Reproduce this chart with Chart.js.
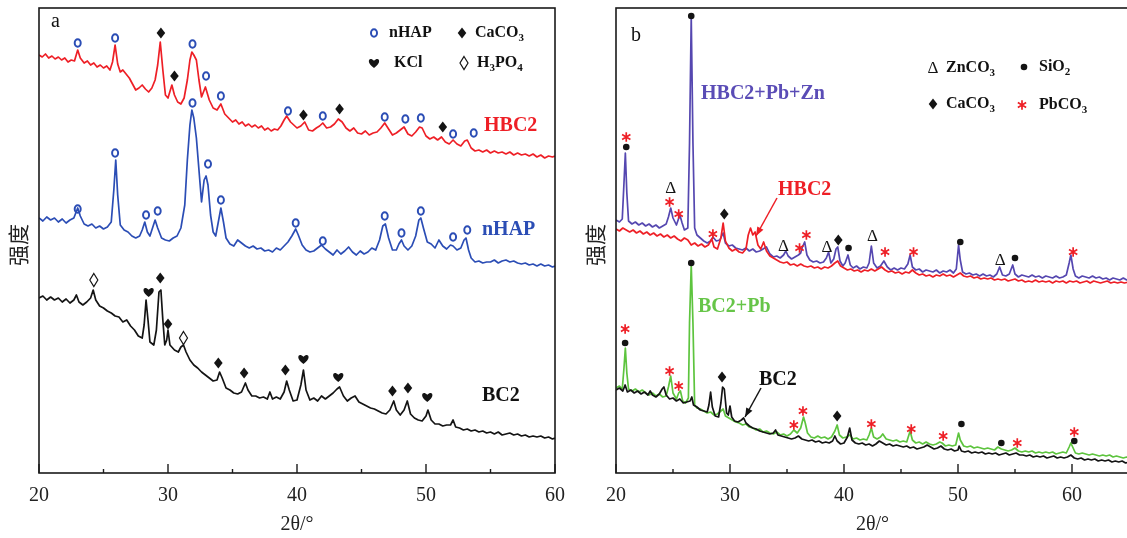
<!DOCTYPE html>
<html><head><meta charset="utf-8">
<script src="https://cdn.jsdelivr.net/npm/chart.js@4.4.0/dist/chart.umd.min.js"></script>
<style>
html,body{margin:0;padding:0;background:#fff;overflow:hidden;width:1127px;height:538px;}
#wrap{position:relative;width:1127px;height:538px;overflow:hidden;background:#fff;}
canvas{position:absolute;top:0;}
#ca{left:0;width:576px;height:538px;}
#cb{left:577px;width:560px;height:538px;}
</style></head><body>
<div id="wrap"><canvas id="ca" width="576" height="538"></canvas><canvas id="cb" width="560" height="538"></canvas></div>
<script>
// ---------- Panel a data (2θ, intensity a.u.) ----------
const aHBC2 = [[20,418],[20.25,416],[20.5,419],[20.75,415],[21,417],[21.25,414],[21.5,416],[21.75,413],[22,415],[22.25,411],[22.5,413],[22.75,412],[23,423],[23.2,415],[23.5,410],[23.75,412],[24,408],[24.25,410],[24.5,406],[24.75,408],[25,405],[25.25,407],[25.5,403],[25.7,411],[25.9,428],[26.1,409],[26.3,401],[26.5,403],[26.75,399],[27,395],[27.25,389],[27.5,383],[27.75,385],[28,388],[28.25,384],[28.5,381],[28.75,385],[29,393],[29.2,408],[29.4,431],[29.6,403],[29.8,378],[30,375],[30.3,388],[30.5,378],[30.75,371],[31,369],[31.25,375],[31.5,393],[31.7,413],[31.85,421],[32,418],[32.2,413],[32.4,393],[32.6,376],[32.9,386],[33.2,373],[33.5,365],[33.8,363],[34.1,369],[34.4,359],[34.7,355],[35,351],[35.25,353],[35.5,349],[35.75,351],[36,347],[36.25,349],[36.5,346],[36.75,348],[37,345],[37.25,347],[37.5,343],[37.75,345],[38,342],[38.25,344],[38.5,343],[38.75,347],[39,353],[39.2,357],[39.5,351],[39.75,348],[40,345],[40.3,347],[40.6,351],[40.9,343],[41.2,342],[41.5,345],[41.75,347],[42,350],[42.3,345],[42.6,346],[42.9,349],[43.2,354],[43.5,351],[43.8,345],[44.1,342],[44.4,345],[44.7,340],[45,339],[45.3,342],[45.6,338],[45.9,340],[46.2,341],[46.5,345],[46.8,350],[47.1,344],[47.4,338],[47.7,340],[48,343],[48.3,346],[48.6,339],[48.9,337],[49.2,341],[49.5,346],[49.7,345],[50,337],[50.3,334],[50.6,336],[50.9,333],[51.2,336],[51.5,331],[51.8,329],[52.1,333],[52.4,329],[52.7,327],[53,332],[53.2,333],[53.5,325],[53.8,322],[54.1,323],[54.4,321],[54.7,323],[55,320],[55.3,322],[55.6,320],[55.9,321],[56.2,319],[56.5,321],[56.8,318],[57.1,320],[57.4,318],[57.7,319],[58,317],[58.3,319],[58.6,316],[58.9,318],[59.2,315],[59.5,317],[59.8,316],[60,317]];
const aNHAP = [[20,255],[20.3,252],[20.6,256],[20.9,253],[21.2,255],[21.5,251],[21.8,254],[22.1,250],[22.4,253],[22.7,255],[23,265],[23.2,257],[23.5,249],[23.8,247],[24.1,249],[24.4,245],[24.7,247],[25,244],[25.3,246],[25.6,251],[25.8,283],[25.95,313],[26.1,278],[26.3,248],[26.6,243],[26.9,241],[27.2,237],[27.5,235],[27.8,237],[28,243],[28.2,251],[28.4,241],[28.6,237],[28.8,245],[29,253],[29.2,245],[29.5,235],[29.8,233],[30.1,232],[30.4,235],[30.7,237],[31,245],[31.3,268],[31.5,313],[31.7,348],[31.85,363],[32,355],[32.2,335],[32.4,303],[32.6,271],[32.8,293],[32.95,297],[33.1,288],[33.3,258],[33.5,241],[33.7,237],[33.9,251],[34.1,265],[34.3,251],[34.5,235],[34.8,229],[35.1,227],[35.4,233],[35.7,230],[36,227],[36.3,225],[36.6,227],[36.9,224],[37.2,225],[37.5,222],[37.8,223],[38.1,221],[38.4,225],[38.7,223],[39,227],[39.3,231],[39.6,237],[39.9,244],[40.1,238],[40.4,228],[40.7,223],[41,221],[41.3,222],[41.6,225],[41.9,228],[42.2,224],[42.5,221],[42.8,218],[43.1,223],[43.4,219],[43.7,222],[44,226],[44.3,221],[44.6,218],[44.9,222],[45.2,219],[45.5,221],[45.8,225],[46.1,223],[46.4,233],[46.65,247],[46.85,249],[47.1,235],[47.4,223],[47.7,223],[47.9,229],[48.1,233],[48.3,227],[48.6,223],[48.9,227],[49.2,237],[49.45,253],[49.6,255],[49.8,245],[50.1,231],[50.4,229],[50.7,225],[51,233],[51.3,227],[51.6,224],[51.9,228],[52.1,227],[52.4,223],[52.7,225],[52.95,233],[53.1,235],[53.3,223],[53.5,215],[53.8,211],[54.1,212],[54.4,210],[54.7,211],[55,211],[55.3,213],[55.6,210],[55.9,212],[56.2,213],[56.5,211],[56.8,212],[57.1,210],[57.4,209],[57.7,210],[58,208],[58.3,209],[58.6,207],[58.9,209],[59.2,207],[59.5,208],[59.8,206],[60,207]];
const aBC2 = [[20,175],[20.3,177],[20.6,173],[20.9,176],[21.2,173],[21.5,175],[21.8,171],[22.1,174],[22.4,170],[22.7,173],[22.9,178],[23.1,171],[23.4,168],[23.7,171],[24,175],[24.2,183],[24.4,173],[24.7,167],[25,165],[25.3,162],[25.6,160],[25.9,157],[26.2,156],[26.5,151],[26.8,153],[27.1,147],[27.4,143],[27.7,137],[28,135],[28.15,148],[28.3,173],[28.45,153],[28.6,131],[28.9,128],[29.1,143],[29.3,181],[29.45,183],[29.6,153],[29.75,128],[29.9,133],[30,143],[30.15,128],[30.5,123],[30.8,121],[31,126],[31.2,128],[31.4,121],[31.7,113],[32,108],[32.3,105],[32.6,101],[32.9,98],[33.2,95],[33.5,92],[33.8,93],[34,101],[34.2,95],[34.5,85],[34.8,83],[35.1,80],[35.4,79],[35.7,81],[36,90],[36.2,83],[36.5,77],[36.8,77],[37.1,75],[37.4,76],[37.7,74],[37.9,81],[38.1,74],[38.4,76],[38.7,74],[39,81],[39.2,92],[39.4,83],[39.7,72],[40,73],[40.3,88],[40.5,103],[40.7,83],[41,73],[41.3,75],[41.6,72],[41.9,77],[42.2,74],[42.5,77],[42.8,80],[43.1,84],[43.3,86],[43.6,77],[43.9,72],[44.2,75],[44.5,77],[44.8,71],[45.1,69],[45.4,67],[45.7,65],[46,64],[46.3,62],[46.6,60],[46.9,59],[47.2,63],[47.5,72],[47.7,63],[48,58],[48.3,63],[48.55,72],[48.8,59],[49.1,55],[49.4,53],[49.7,52],[50,57],[50.15,63],[50.4,53],[50.7,49],[51,49],[51.3,47],[51.6,48],[51.9,48],[52.1,53],[52.3,46],[52.6,45],[52.9,43],[53.2,44],[53.5,42],[53.8,43],[54.1,41],[54.4,42],[54.7,40],[55,41],[55.3,39],[55.6,41],[55.9,38],[56.2,39],[56.5,40],[56.8,38],[57.1,39],[57.4,37],[57.7,38],[58,36],[58.3,37],[58.6,36],[58.9,37],[59.2,35],[59.5,36],[59.8,34],[60,35]];

// ---------- Panel b data ----------
const bHBC2PbZn = [[20,253],[20.3,251],[20.55,254],[20.7,290],[20.82,320],[20.95,280],[21.1,252],[21.4,249],[21.7,251],[22,248],[22.3,250],[22.6,247],[22.9,249],[23.2,246],[23.5,248],[23.8,245],[24.1,247],[24.4,249],[24.6,256],[24.8,265],[25,255],[25.3,248],[25.6,258],[25.8,250],[26,243],[26.3,245],[26.45,330],[26.6,456],[26.75,330],[26.9,245],[27.1,238],[27.4,235],[27.7,232],[28,230],[28.3,232],[28.5,236],[28.8,232],[29.1,233],[29.4,240],[29.6,230],[29.9,227],[30.2,228],[30.5,225],[30.8,224],[31.1,223],[31.4,225],[31.7,222],[32,224],[32.3,221],[32.6,222],[32.9,224],[33.2,226],[33.5,219],[33.8,216],[34.1,217],[34.4,215],[34.7,218],[34.9,222],[35.1,217],[35.4,214],[35.7,216],[36,218],[36.2,220],[36.35,226],[36.55,231],[36.75,218],[37,213],[37.3,211],[37.6,212],[37.9,210],[38.2,211],[38.45,215],[38.65,221],[38.85,210],[39.1,214],[39.3,224],[39.45,226],[39.65,212],[39.9,207],[40.1,210],[40.35,218],[40.55,208],[40.8,205],[41.1,207],[41.4,204],[41.7,206],[42,205],[42.2,210],[42.4,227],[42.6,210],[42.9,205],[43.2,207],[43.5,212],[43.8,206],[44.1,203],[44.4,205],[44.7,203],[45,205],[45.3,204],[45.6,209],[45.8,218],[46,206],[46.3,203],[46.6,204],[46.9,201],[47.2,203],[47.5,202],[47.8,201],[48.1,203],[48.4,200],[48.7,202],[49,201],[49.3,203],[49.6,200],[49.85,204],[50.05,228],[50.2,213],[50.4,201],[50.7,199],[51,200],[51.3,198],[51.6,199],[51.9,197],[52.2,199],[52.5,197],[52.8,198],[53.1,196],[53.4,199],[53.65,206],[53.9,198],[54.2,197],[54.5,199],[54.8,208],[55,199],[55.3,196],[55.6,198],[55.9,197],[56.2,196],[56.5,198],[56.8,196],[57.1,197],[57.4,195],[57.7,197],[58,196],[58.3,195],[58.6,197],[58.9,195],[59.2,196],[59.5,198],[59.75,210],[59.9,218],[60.1,204],[60.3,197],[60.6,195],[60.9,197],[61.2,196],[61.5,195],[61.8,197],[62.1,195],[62.4,196],[62.7,194],[63,195],[63.3,193],[63.6,195],[63.9,194],[64.2,193],[64.5,195],[64.8,193],[65,194]];
const bHBC2 = [[20,244],[20.3,242],[20.6,245],[20.9,243],[21.2,241],[21.5,243],[21.8,240],[22.1,242],[22.4,239],[22.7,241],[23,238],[23.3,240],[23.6,237],[23.9,239],[24.2,236],[24.5,238],[24.8,235],[25.1,237],[25.4,234],[25.7,232],[26,235],[26.3,233],[26.6,228],[26.9,230],[27.2,227],[27.5,229],[27.8,226],[28.1,228],[28.4,234],[28.6,226],[28.9,224],[29.2,235],[29.4,250],[29.6,232],[29.9,225],[30.2,222],[30.5,224],[30.8,221],[31.1,220],[31.4,224],[31.6,238],[31.8,245],[32,238],[32.2,241],[32.45,228],[32.7,224],[32.95,231],[33.2,222],[33.5,217],[33.8,215],[34.1,213],[34.4,211],[34.7,210],[35,211],[35.3,208],[35.6,209],[35.9,207],[36.2,209],[36.5,207],[36.8,206],[37.1,207],[37.4,205],[37.7,206],[38,204],[38.3,206],[38.6,205],[38.9,207],[39.2,210],[39.45,212],[39.7,207],[40,205],[40.3,203],[40.6,204],[40.9,202],[41.2,203],[41.5,201],[41.8,203],[42.1,202],[42.4,204],[42.7,202],[43,204],[43.3,206],[43.6,203],[43.9,201],[44.2,202],[44.5,200],[44.8,201],[45.1,199],[45.4,201],[45.7,200],[46,203],[46.3,200],[46.6,198],[46.9,199],[47.2,197],[47.5,198],[47.8,196],[48.1,198],[48.4,197],[48.7,199],[49,197],[49.3,198],[49.6,196],[49.9,198],[50.2,200],[50.5,197],[50.8,196],[51.1,197],[51.4,195],[51.7,196],[52,194],[52.3,195],[52.6,194],[52.9,195],[53.2,193],[53.5,194],[53.8,193],[54.1,194],[54.4,192],[54.7,193],[55,194],[55.3,192],[55.6,193],[55.9,191],[56.2,192],[56.5,191],[56.8,193],[57.1,191],[57.4,192],[57.7,191],[58,192],[58.3,190],[58.6,192],[58.9,191],[59.2,192],[59.5,190],[59.8,192],[60.1,191],[60.4,192],[60.7,190],[61,191],[61.3,192],[61.6,190],[61.9,192],[62.2,191],[62.5,190],[62.8,191],[63.1,192],[63.4,190],[63.7,191],[64,190],[64.3,191],[64.6,190],[65,191]];
const bBC2Pb = [[20,85],[20.3,87],[20.55,84],[20.7,105],[20.82,125],[20.95,100],[21.1,84],[21.4,82],[21.7,84],[22,81],[22.3,83],[22.6,80],[22.9,78],[23.2,80],[23.5,77],[23.8,79],[24.1,76],[24.4,77],[24.6,86],[24.8,97],[25,80],[25.3,74],[25.5,80],[25.65,82],[25.85,72],[26.1,70],[26.35,75],[26.45,150],[26.6,208],[26.75,150],[26.9,68],[27.1,65],[27.4,64],[27.7,62],[28,60],[28.3,61],[28.6,58],[28.9,59],[29.2,62],[29.4,64],[29.6,57],[29.9,55],[30.2,53],[30.5,51],[30.8,50],[31.1,48],[31.4,49],[31.7,46],[32,45],[32.3,43],[32.6,44],[32.9,41],[33.2,42],[33.5,40],[33.8,39],[34.1,41],[34.4,38],[34.7,39],[35,37],[35.3,39],[35.6,43],[35.9,40],[36.2,45],[36.45,56],[36.6,50],[36.8,40],[37.1,36],[37.4,35],[37.7,37],[38,35],[38.3,36],[38.6,34],[38.9,36],[39.2,42],[39.4,48],[39.6,38],[39.9,35],[40.2,36],[40.5,38],[40.8,34],[41.1,35],[41.4,33],[41.7,34],[42,33],[42.2,38],[42.4,45],[42.6,36],[42.9,34],[43.2,36],[43.4,39],[43.7,34],[44,33],[44.3,32],[44.6,33],[44.9,31],[45.2,32],[45.5,31],[45.8,42],[46,33],[46.3,30],[46.6,31],[46.9,29],[47.2,31],[47.5,29],[47.8,28],[48.1,29],[48.4,31],[48.6,30],[48.9,27],[49.2,28],[49.5,27],[49.8,28],[50.05,40],[50.2,33],[50.5,27],[50.8,26],[51.1,27],[51.4,25],[51.7,26],[52,25],[52.3,24],[52.6,25],[52.9,24],[53.2,23],[53.5,26],[53.8,24],[54.1,23],[54.4,22],[54.7,23],[55,25],[55.3,22],[55.6,21],[55.9,22],[56.2,21],[56.5,22],[56.8,20],[57.1,21],[57.4,20],[57.7,21],[58,20],[58.3,21],[58.6,19],[58.9,20],[59.2,21],[59.5,20],[59.75,26],[59.9,30],[60.1,25],[60.3,20],[60.6,19],[60.9,20],[61.2,19],[61.5,18],[61.8,19],[62.1,18],[62.4,17],[62.7,18],[63,17],[63.3,18],[63.6,16],[63.9,17],[64.2,16],[64.5,15],[64.8,16],[65,15]];
const bBC2 = [[20,83],[20.3,85],[20.6,82],[20.8,88],[21,81],[21.3,83],[21.6,80],[21.9,82],[22.2,79],[22.5,81],[22.8,78],[23,82],[23.2,78],[23.5,76],[23.8,79],[24.05,84],[24.2,86],[24.4,78],[24.7,74],[25,75],[25.3,72],[25.6,74],[25.9,70],[26.2,71],[26.5,72],[26.65,76],[26.8,68],[27.1,66],[27.4,63],[27.7,62],[28,61],[28.15,68],[28.3,81],[28.45,66],[28.7,57],[29,56],[29.2,70],[29.35,86],[29.5,84],[29.7,60],[29.85,58],[30,67],[30.15,56],[30.4,52],[30.7,51],[31,53],[31.2,55],[31.4,50],[31.7,47],[32,45],[32.3,44],[32.6,42],[32.9,41],[33.2,40],[33.5,39],[33.8,40],[34,43],[34.2,38],[34.5,37],[34.8,36],[35.1,35],[35.4,34],[35.7,35],[36,37],[36.3,34],[36.6,33],[36.9,32],[37.2,33],[37.5,31],[37.8,32],[38.1,30],[38.4,31],[38.7,30],[39,32],[39.2,37],[39.4,32],[39.7,29],[40,30],[40.3,36],[40.5,45],[40.7,33],[41,30],[41.3,29],[41.6,30],[41.9,28],[42.2,29],[42.5,27],[42.8,29],[43.1,32],[43.4,30],[43.7,28],[44,29],[44.3,27],[44.6,28],[44.9,27],[45.2,26],[45.5,27],[45.8,25],[46.1,26],[46.4,24],[46.7,25],[47,26],[47.3,28],[47.6,26],[47.9,24],[48.2,25],[48.5,27],[48.8,24],[49.1,23],[49.4,24],[49.7,22],[50,23],[50.1,27],[50.3,22],[50.6,21],[50.9,22],[51.2,20],[51.5,21],[51.8,20],[52.1,21],[52.4,19],[52.7,20],[53,19],[53.3,20],[53.6,18],[53.9,19],[54.2,20],[54.5,18],[54.8,19],[55.1,20],[55.4,18],[55.7,18],[56,17],[56.3,18],[56.6,16],[56.9,17],[57.2,16],[57.5,17],[57.8,15],[58.1,16],[58.4,17],[58.7,15],[59,16],[59.3,15],[59.6,16],[59.9,18],[60.2,15],[60.5,14],[60.8,15],[61.1,13],[61.4,14],[61.7,13],[62,14],[62.3,12],[62.6,13],[62.9,12],[63.2,13],[63.5,11],[63.8,12],[64.1,11],[64.4,12],[64.7,10],[65,11]];

// ---------- phase markers (2θ, height) ----------
const aMarkNHAP1 = [[23,430],[25.9,435],[31.9,429],[32.95,397],[34.1,377],[39.3,362],[42.0,357],[46.8,356],[48.4,354],[49.6,355],[52.1,339],[53.7,340]];
const aMarkCaCO3_1 = [[29.45,440],[30.5,397],[40.5,358],[43.3,364],[51.3,346]];
const aMarkNHAP2 = [[23,264],[25.9,320],[28.3,258],[29.2,262],[31.9,370],[33.1,309],[34.1,273],[39.9,250],[42.0,232],[46.8,257],[48.1,240],[49.6,262],[52.1,236],[53.2,243]];
const aMarkH3PO4 = [[24.25,193],[31.2,135]];
const aMarkKCl = [[28.5,181],[40.5,114],[43.2,96],[50.1,76]];
const aMarkCaCO3_3 = [[29.4,195],[30.0,149],[33.9,110],[35.9,100],[39.1,103],[47.4,82],[48.6,85]];

const bMarkPbCO3 = [[20.9,336],[24.7,271],[25.5,259],[28.5,239],[36.1,225],[36.7,238],[43.6,221],[46.1,221],[60.1,221],
                    [20.8,144],[24.7,102],[25.5,87],[35.6,48],[36.4,62],[42.4,49],[45.9,44],[48.7,37],[55.2,30],[60.2,41]];
const bMarkSiO2 = [[20.9,326],[26.6,457],[40.4,225],[50.2,231],[55.0,215],[26.6,210],[20.8,130],[50.3,49],[53.8,30],[60.2,32]];
const bMarkZnCO3 = [[24.8,285],[34.7,227],[38.5,226],[42.5,237],[53.7,213]];
const bMarkCaCO3 = [[29.5,259],[39.5,233],[29.3,96],[39.4,57]];

const xTicksA = [20,30,40,50,60];
const xTicksB = [20,30,40,50,60];

// ---------- styling ----------
const SERIF = '"Liberation Serif","Times New Roman",serif';
const RED = '#ee1f26', BLUE = '#2b4db5', BLACK = '#141414', PURPLE = '#5547b0', GREEN = '#5dc43e';

function drawSym(ctx, sym, px, py, color) {
  ctx.save();
  ctx.fillStyle = color; ctx.strokeStyle = color;
  if (sym === 'o') {
    ctx.lineWidth = 2; ctx.beginPath(); ctx.ellipse(px, py, 3.0, 3.8, 0, 0, Math.PI*2); ctx.stroke();
  } else if (sym === 'dia') {
    ctx.beginPath(); ctx.moveTo(px, py-5.5); ctx.lineTo(px+4.3, py); ctx.lineTo(px, py+5.5); ctx.lineTo(px-4.3, py); ctx.closePath(); ctx.fill();
  } else if (sym === 'odia') {
    ctx.lineWidth = 1.2; ctx.beginPath(); ctx.moveTo(px, py-6.5); ctx.lineTo(px+4, py); ctx.lineTo(px, py+6.5); ctx.lineTo(px-4, py); ctx.closePath(); ctx.stroke();
  } else if (sym === 'dot') {
    ctx.beginPath(); ctx.arc(px, py, 3.3, 0, Math.PI*2); ctx.fill();
  } else if (sym === 'heart') {
    const s = 5;
    ctx.beginPath();
    ctx.moveTo(px, py + s);
    ctx.bezierCurveTo(px - s*1.7, py - s*0.1, px - s*1.0, py - s*1.4, px, py - s*0.45);
    ctx.bezierCurveTo(px + s*1.0, py - s*1.4, px + s*1.7, py - s*0.1, px, py + s);
    ctx.fill();
  } else if (sym === 'tri') {
    ctx.font = '17px ' + SERIF; ctx.textAlign = 'center'; ctx.textBaseline = 'middle';
    ctx.fillText('Δ', px, py + 1);
  } else if (sym === 'star') {
    ctx.lineWidth = 1.7; const r = 4.8;
    ctx.beginPath();
    for (let k = 0; k < 3; k++) {
      const a = Math.PI/2 + k*Math.PI/3;
      ctx.moveTo(px + r*Math.cos(a), py + r*Math.sin(a));
      ctx.lineTo(px - r*Math.cos(a), py - r*Math.sin(a));
    }
    ctx.stroke();
  }
  ctx.restore();
}

function chem(ctx, parts, x, y, size, color, bold) {
  ctx.save();
  ctx.fillStyle = color; ctx.textBaseline = 'middle'; ctx.textAlign = 'left';
  for (const [t, sub] of parts) {
    const fs = sub ? Math.round(size*0.68) : size;
    ctx.font = (bold ? 'bold ' : '') + fs + 'px ' + SERIF;
    ctx.fillText(t, x, sub ? y + size*0.33 : y);
    x += ctx.measureText(t).width;
  }
  ctx.restore();
}

function yTitle(ctx, x, y) {
  ctx.save();
  ctx.translate(x, y); ctx.rotate(-Math.PI/2);
  ctx.fillStyle = '#222'; ctx.font = '21px "Noto Sans CJK SC"';
  ctx.textAlign = 'center'; ctx.textBaseline = 'middle';
  ctx.fillText('强度', 0, 0);
  ctx.restore();
}

function makePlugin(marks, decorate) {
  return {
    id: 'decor',
    afterDatasetsDraw(chart) {
      const {ctx, chartArea: a, scales: {x, y}} = chart;
      ctx.save();
      ctx.strokeStyle = '#1a1a1a'; ctx.lineWidth = 1.6;
      ctx.strokeRect(a.left, a.top, a.right - a.left, a.bottom - a.top);
      ctx.lineWidth = 1.4;
      for (let v = x.min; v <= x.max + 1e-9; v += 5) {
        const px = x.getPixelForValue(v);
        const len = (Math.round(v) % 10 === 0) ? 9 : 4;
        ctx.beginPath(); ctx.moveTo(px, a.bottom); ctx.lineTo(px, a.bottom - len); ctx.stroke();
      }
      ctx.restore();
      for (const g of marks) {
        for (const [mx, my] of g.pts) {
          drawSym(ctx, g.sym, x.getPixelForValue(mx), y.getPixelForValue(my), g.color);
        }
      }
      yTitle(ctx, 18, 245);
      decorate(ctx);
    }
  };
}

function lineDS(arr, color) {
  return { data: arr.map(([x, y]) => ({x, y})), borderColor: color, borderWidth: 1.7, pointRadius: 0, tension: 0, fill: false, borderJoinStyle: 'round' };
}

function baseOptions(xmax, ticks, padRight) {
  return {
    responsive: false, animation: false, devicePixelRatio: 1,
    layout: { padding: { top: 8, right: padRight, left: 0, bottom: 0 } },
    plugins: { legend: { display: false }, tooltip: { enabled: false } },
    scales: {
      x: {
        type: 'linear', min: 20, max: xmax,
        afterBuildTicks(s) { s.ticks = ticks.map(v => ({value: v})); },
        ticks: { font: { family: SERIF, size: 20 }, color: '#222', padding: 11, maxRotation: 0, autoSkip: false },
        grid: { display: false, drawTicks: false }, border: { display: false },
        title: { display: true, text: '2θ/°', font: { family: SERIF, size: 20 }, color: '#222', padding: { top: 0, bottom: 1 } },
        afterFit(s) { s.height = 65; s.paddingLeft = 0; s.paddingRight = 0; }
      },
      y: {
        min: 0, max: 465,
        ticks: { display: false }, grid: { display: false, drawTicks: false }, border: { display: false },
        title: { display: false, text: '强度' },
        afterFit(s) { s.width = 39; s.paddingTop = 0; s.paddingBottom = 0; }
      }
    }
  };
}

// Panel a
new Chart(document.getElementById('ca'), {
  type: 'line',
  data: { datasets: [lineDS(aBC2, BLACK), lineDS(aNHAP, BLUE), lineDS(aHBC2, RED)] },
  options: baseOptions(60, xTicksA, 21),
  plugins: [makePlugin([
    {pts: aMarkNHAP1, sym: 'o', color: BLUE},
    {pts: aMarkCaCO3_1, sym: 'dia', color: BLACK},
    {pts: aMarkNHAP2, sym: 'o', color: BLUE},
    {pts: aMarkH3PO4, sym: 'odia', color: BLACK},
    {pts: aMarkKCl, sym: 'heart', color: BLACK},
    {pts: aMarkCaCO3_3, sym: 'dia', color: BLACK}
  ], (ctx) => {
    ctx.save();
    ctx.fillStyle = '#111'; ctx.font = '20px ' + SERIF; ctx.textBaseline = 'middle'; ctx.textAlign = 'left';
    ctx.fillText('a', 51, 22);
    drawSym(ctx, 'o', 374, 33, BLUE);
    chem(ctx, [['nHAP', 0]], 389, 33, 16, '#111', true);
    drawSym(ctx, 'dia', 462, 33, BLACK);
    chem(ctx, [['CaCO', 0], ['3', 1]], 475, 33, 16, '#111', true);
    drawSym(ctx, 'heart', 374, 63, BLACK);
    chem(ctx, [['KCl', 0]], 394, 63, 16, '#111', true);
    drawSym(ctx, 'odia', 464, 63, BLACK);
    chem(ctx, [['H', 0], ['3', 1], ['PO', 0], ['4', 1]], 477, 63, 16, '#111', true);
    chem(ctx, [['HBC2', 0]], 484, 126, 20, RED, true);
    chem(ctx, [['nHAP', 0]], 482, 230, 20, BLUE, true);
    chem(ctx, [['BC2', 0]], 482, 396, 20, '#111', true);
    ctx.restore();
  })]
});

// Panel b
const OX = 577;
function arrow(ctx, x1, y1, x2, y2, color) {
  ctx.save();
  ctx.strokeStyle = color; ctx.fillStyle = color; ctx.lineWidth = 1.5;
  ctx.beginPath(); ctx.moveTo(x1, y1); ctx.lineTo(x2, y2); ctx.stroke();
  const ang = Math.atan2(y2 - y1, x2 - x1), L = 9, W = 3.5;
  ctx.beginPath();
  ctx.moveTo(x2, y2);
  ctx.lineTo(x2 - L*Math.cos(ang) + W*Math.sin(ang), y2 - L*Math.sin(ang) - W*Math.cos(ang));
  ctx.lineTo(x2 - L*Math.cos(ang) - W*Math.sin(ang), y2 - L*Math.sin(ang) + W*Math.cos(ang));
  ctx.closePath(); ctx.fill();
  ctx.restore();
}
new Chart(document.getElementById('cb'), {
  type: 'line',
  data: { datasets: [lineDS(bHBC2, RED), lineDS(bHBC2PbZn, PURPLE), lineDS(bBC2, BLACK), lineDS(bBC2Pb, GREEN)] },
  options: baseOptions(65, xTicksB, 8),
  plugins: [makePlugin([
    {pts: bMarkPbCO3, sym: 'star', color: RED},
    {pts: bMarkSiO2, sym: 'dot', color: BLACK},
    {pts: bMarkZnCO3, sym: 'tri', color: BLACK},
    {pts: bMarkCaCO3, sym: 'dia', color: BLACK}
  ], (ctx) => {
    ctx.save();
    ctx.fillStyle = '#111'; ctx.font = '20px ' + SERIF; ctx.textBaseline = 'middle'; ctx.textAlign = 'left';
    ctx.fillText('b', 631 - OX, 36);
    drawSym(ctx, 'tri', 933 - OX, 68, BLACK);
    chem(ctx, [['ZnCO', 0], ['3', 1]], 946 - OX, 68, 16, '#111', true);
    drawSym(ctx, 'dot', 1024 - OX, 67, BLACK);
    chem(ctx, [['SiO', 0], ['2', 1]], 1039 - OX, 67, 16, '#111', true);
    drawSym(ctx, 'dia', 933 - OX, 104, BLACK);
    chem(ctx, [['CaCO', 0], ['3', 1]], 946 - OX, 104, 16, '#111', true);
    drawSym(ctx, 'star', 1022 - OX, 105, RED);
    chem(ctx, [['PbCO', 0], ['3', 1]], 1039 - OX, 105, 16, '#111', true);
    chem(ctx, [['HBC2+Pb+Zn', 0]], 701 - OX, 94, 20, '#5a4cb6', true);
    chem(ctx, [['HBC2', 0]], 778 - OX, 190, 20, RED, true);
    arrow(ctx, 777 - OX, 198, 756 - OX, 236, RED);
    chem(ctx, [['BC2+Pb', 0]], 698 - OX, 307, 20, '#66c548', true);
    chem(ctx, [['BC2', 0]], 759 - OX, 380, 20, '#111', true);
    arrow(ctx, 761 - OX, 388, 745 - OX, 417, BLACK);
    ctx.restore();
  })]
});
</script>
</body></html>
